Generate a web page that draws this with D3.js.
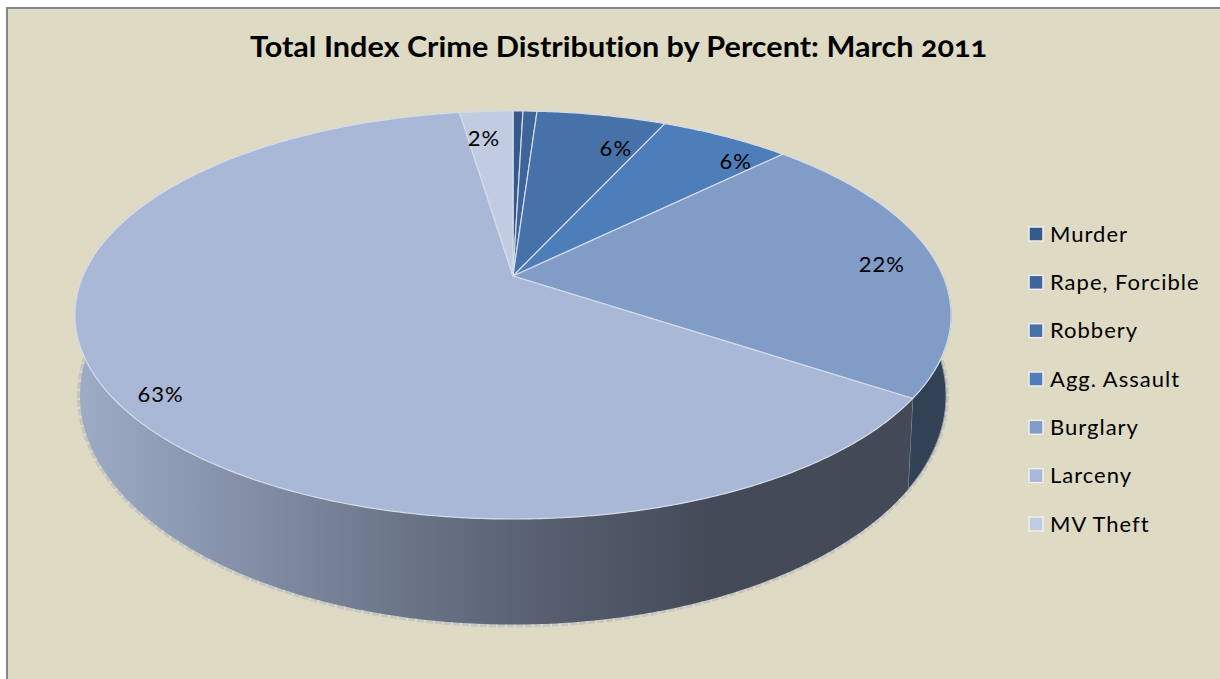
<!DOCTYPE html>
<html>
<head>
<meta charset="utf-8">
<script src="https://d3js.org/d3.v7.min.js"></script>
<style>
  html, body { margin: 0; padding: 0; background: #fff; }
  svg { display: block; font-family: Lato, "Open Sans", sans-serif; }
</style>
</head>
<body>
<svg id="chart" width="1220" height="679"></svg>
<script>
const categories = ['Murder', 'Rape, Forcible', 'Robbery', 'Agg. Assault', 'Burglary', 'Larceny', 'MV Theft'];
const percents = [0.44, 0.62, 5.74, 5.8, 21.8, 63.24, 2.36];
const percentLabels = [null, null, '6%', '6%', '22%', '63%', '2%'];
const topColors = ['#35598a', '#3d659a', '#4672a9', '#4e7eb9', '#829cc8', '#a9b8d6', '#c1cce0'];

const svg = d3.select('#chart');

// perspective view of a unit circle: far side squeezed, apex above the ellipse centre
const face = { cx: 513, cy: 276, a: 430, b: 196.6, k: 0.191 };
const base = { cx: 513, cy: 352, a: 425, b: 220.5, k: 0.191 };

function project(view, angle) {
  const x = Math.sin(angle), y = -Math.cos(angle);
  const w = 1 - view.k * y;
  return [view.cx + view.a * x / w, view.cy + view.b * y / w];
}

function arcPoints(view, start, end) {
  const n = Math.max(2, Math.ceil((end - start) / 0.01));
  return d3.range(n + 1).map(i => project(view, start + (end - start) * i / n));
}

const line = d3.line();
const slices = d3.pie().sort(null).value(d => d)(percents);

svg.append('rect')
    .attr('x', 7).attr('y', 8).attr('width', 1230).attr('height', 690)
    .attr('fill', '#dedac4')
    .attr('stroke', '#868686')
    .attr('stroke-width', 2);

svg.append('text')
    .attr('x', 250).attr('y', 57)
    .attr('font-size', 28)
    .attr('font-weight', 'bold')
    .attr('fill', '#000')
    .attr('textLength', 737)
    .attr('lengthAdjust', 'spacingAndGlyphs')
    .style('font-feature-settings', '"liga" 0, "onum" 1')
    .text('Total Index Crime Distribution by Percent: March 2011');

// shaded rim, left pale to right dark
const defs = svg.append('defs');
const rimGrad = defs.append('linearGradient')
    .attr('id', 'rim')
    .attr('gradientUnits', 'userSpaceOnUse')
    .attr('x1', 75).attr('x2', 951).attr('y1', 0).attr('y2', 0);
[[0, '#9eacc6'], [0.14, '#8a97b0'], [0.37, '#6c7689'], [0.5, '#5b6475'], [0.72, '#444a58'], [1, '#434957']]
  .forEach(([o, c]) => rimGrad.append('stop').attr('offset', o).attr('stop-color', c));

const rimStart = Math.PI / 2;
const rimEnd = Math.PI * 1.5;

// pale fringe along the lower rim, sits just outside the body
svg.append('path')
    .attr('d', line(arcPoints(base, rimStart, rimEnd)))
    .attr('fill', 'none')
    .attr('stroke', '#c6c6c2')
    .attr('stroke-width', 6)
    .attr('stroke-dasharray', '7 2');

slices.forEach((s, i) => {
  const from = Math.max(s.startAngle, rimStart), to = Math.min(s.endAngle, rimEnd);
  if (to <= from) return;
  const pts = arcPoints(face, from, to).concat(arcPoints(base, from, to).reverse());
  svg.append('path')
      .attr('d', line(pts) + 'Z')
      .attr('fill', categories[i] === 'Burglary' ? '#334155' : 'url(#rim)')
      .attr('stroke', categories[i] === 'Burglary' ? '#8f96a3' : 'none')
      .attr('stroke-width', 1);
});

svg.append('g')
  .selectAll('path')
  .data(slices)
  .join('path')
    .attr('d', d => line([[face.cx, face.cy]].concat(arcPoints(face, d.startAngle, d.endAngle))) + 'Z')
    .attr('fill', (d, i) => topColors[i])
    .attr('stroke', '#d5dce9')
    .attr('stroke-width', 1.2)
    .attr('stroke-linejoin', 'round');

// label spots: a fraction of the way from apex to rim, then nudged to where the chart puts them
const labelReach = [0, 0, 0.82, 0.83, 0.75, 0.83, 0.84];
const labelNudge = [[0, 0], [0, 0], [28, 8], [42, 4], [52, 2], [-23, 23], [-6, 4]];
svg.append('g')
  .selectAll('text')
  .data(slices)
  .join('text')
    .filter((d, i) => percentLabels[i] !== null)
    .attr('transform', d => {
      const i = d.index, mid = (d.startAngle + d.endAngle) / 2;
      const x = Math.sin(mid) * labelReach[i], y = -Math.cos(mid) * labelReach[i];
      const w = 1 - face.k * y;
      return `translate(${face.cx + face.a * x / w + labelNudge[i][0]},${face.cy + face.b * y / w + labelNudge[i][1]})`;
    })
    .attr('text-anchor', 'middle')
    .attr('dy', '0.35em')
    .attr('font-size', 22)
    .attr('letter-spacing', 1)
    .attr('fill', '#000')
    .text(d => percentLabels[d.index]);

const legendY = d3.scalePoint().domain(categories).range([234, 524]);
const legend = svg.append('g')
  .selectAll('g')
  .data(categories)
  .join('g')
    .attr('transform', d => `translate(1029,${legendY(d)})`);

legend.append('rect')
    .attr('x', 0).attr('y', -7)
    .attr('width', 14).attr('height', 14)
    .attr('fill', (d, i) => topColors[i])
    .attr('stroke', '#eef0f0')
    .attr('stroke-width', 1.5);

legend.append('text')
    .attr('x', 21)
    .attr('dy', '0.35em')
    .attr('font-size', 22)
    .attr('letter-spacing', 1)
    .attr('fill', '#000')
    .text(d => d);
</script>
</body>
</html>
